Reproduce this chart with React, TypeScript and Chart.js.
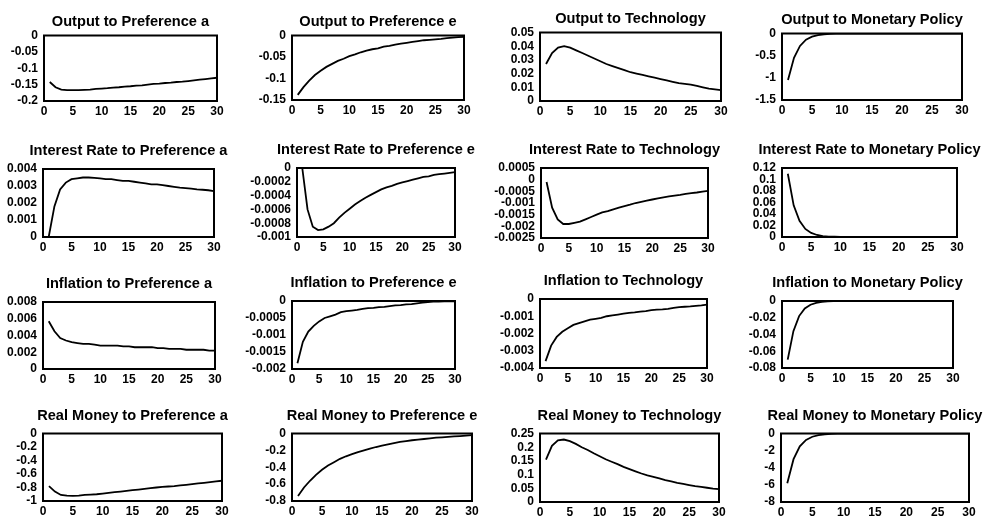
import React, { useEffect, useRef } from 'react';
import { Chart, registerables } from 'chart.js';

Chart.register(...registerables);

const PERIODS = [1, 2, 3, 4, 5, 6, 7, 8, 9, 10, 11, 12, 13, 14, 15, 16, 17, 18, 19, 20, 21, 22, 23, 24, 25, 26, 27, 28, 29, 30];
const X_TICKS = [0, 5, 10, 15, 20, 25, 30];

const TITLES = [
  'Output to Preference a', 'Output to Preference e', 'Output to Technology', 'Output to Monetary Policy',
  'Interest Rate to Preference a', 'Interest Rate to Preference e', 'Interest Rate to Technology', 'Interest Rate to Monetary Policy',
  'Inflation to Preference a', 'Inflation to Preference e', 'Inflation to Technology', 'Inflation to Monetary Policy',
  'Real Money to Preference a', 'Real Money to Preference e', 'Real Money to Technology', 'Real Money to Monetary Policy',
];

const outputPrefA = [-0.142, -0.158, -0.165, -0.167, -0.167, -0.167, -0.166, -0.165, -0.163, -0.162, -0.161, -0.159, -0.158, -0.156, -0.155, -0.153, -0.152, -0.150, -0.148, -0.147, -0.145, -0.144, -0.142, -0.141, -0.139, -0.137, -0.135, -0.133, -0.131, -0.129];
const outputPrefE = [-0.138, -0.120, -0.105, -0.092, -0.082, -0.073, -0.066, -0.059, -0.054, -0.048, -0.044, -0.039, -0.035, -0.032, -0.030, -0.026, -0.024, -0.021, -0.019, -0.017, -0.015, -0.013, -0.011, -0.010, -0.009, -0.008, -0.006, -0.005, -0.004, -0.003];
const outputTech = [0.027, 0.035, 0.039, 0.040, 0.039, 0.037, 0.035, 0.033, 0.031, 0.029, 0.027, 0.0255, 0.024, 0.0225, 0.021, 0.020, 0.019, 0.018, 0.017, 0.016, 0.015, 0.014, 0.013, 0.0125, 0.012, 0.011, 0.010, 0.009, 0.0085, 0.008];
const outputMon = [-1.05, -0.55, -0.28, -0.14, -0.07, -0.035, -0.017, -0.008, -0.004, -0.002, -0.001, -0.0005, 0, 0, 0, 0, 0, 0, 0, 0, 0, 0, 0, 0, 0, 0, 0, 0, 0, 0];

const ratePrefA = [0.0, 0.0018, 0.0028, 0.0032, 0.0034, 0.00345, 0.0035, 0.0035, 0.00348, 0.00345, 0.0034, 0.0034, 0.00335, 0.0033, 0.0033, 0.00325, 0.0032, 0.00315, 0.0031, 0.0031, 0.00305, 0.003, 0.00295, 0.0029, 0.00288, 0.00285, 0.0028, 0.00278, 0.00275, 0.0027];
const ratePrefE = [0.0, -0.0006, -0.00085, -0.0009, -0.00089, -0.00085, -0.0008, -0.00072, -0.00065, -0.00059, -0.00053, -0.00048, -0.00043, -0.00039, -0.00035, -0.00031, -0.00028, -0.00026, -0.00023, -0.00021, -0.00019, -0.00017, -0.00015, -0.00013, -0.00012, -0.0001, -0.00009, -0.00008, -0.00007, -0.00006];
const rateTech = [-0.0001, -0.0012, -0.0017, -0.0019, -0.0019, -0.00185, -0.0018, -0.0017, -0.0016, -0.0015, -0.0014, -0.00135, -0.00127, -0.0012, -0.00113, -0.00107, -0.001, -0.00095, -0.0009, -0.00085, -0.0008, -0.00076, -0.00072, -0.00068, -0.00065, -0.00061, -0.00058, -0.00055, -0.00051, -0.00048];
const rateMon = [0.11, 0.055, 0.028, 0.014, 0.007, 0.0035, 0.0017, 0.0008, 0.0004, 0.0002, 0.0001, 0, 0, 0, 0, 0, 0, 0, 0, 0, 0, 0, 0, 0, 0, 0, 0, 0, 0, 0];

const inflPrefA = [0.0057, 0.0045, 0.0037, 0.0034, 0.0032, 0.0031, 0.003, 0.003, 0.0029, 0.0028, 0.0028, 0.0028, 0.0028, 0.0027, 0.0027, 0.0026, 0.0026, 0.0026, 0.0026, 0.0025, 0.0025, 0.0024, 0.0024, 0.0024, 0.0023, 0.0023, 0.0023, 0.0023, 0.0022, 0.0022];
const inflPrefE = [-0.00183, -0.0012, -0.0009, -0.00073, -0.0006, -0.0005, -0.00045, -0.0004, -0.00033, -0.0003, -0.00028, -0.00026, -0.00023, -0.00021, -0.0002, -0.00018, -0.00017, -0.00015, -0.00013, -0.00012, -0.0001, -0.00009, -0.00007, -0.00005, -0.00003, -0.00002, -0.00002, -0.00001, -0.00001, -0.00001];
const inflTech = [-0.0036, -0.0027, -0.0022, -0.0019, -0.0017, -0.0015, -0.0014, -0.0013, -0.0012, -0.00115, -0.0011, -0.001, -0.00095, -0.0009, -0.00085, -0.0008, -0.00078, -0.00073, -0.0007, -0.00065, -0.00062, -0.0006, -0.00057, -0.00052, -0.00047, -0.00045, -0.00043, -0.0004, -0.00037, -0.00033];
const inflMon = [-0.07, -0.036, -0.018, -0.009, -0.0045, -0.0022, -0.0011, -0.0005, -0.0002, -0.0001, 0, 0, 0, 0, 0, 0, 0, 0, 0, 0, 0, 0, 0, 0, 0, 0, 0, 0, 0, 0];

const moneyPrefA = [-0.78, -0.86, -0.91, -0.92, -0.925, -0.92, -0.91, -0.905, -0.9, -0.89, -0.88, -0.87, -0.86, -0.85, -0.84, -0.83, -0.82, -0.81, -0.8, -0.79, -0.785, -0.78, -0.77, -0.76, -0.75, -0.74, -0.73, -0.72, -0.71, -0.7];
const moneyPrefE = [-0.74, -0.64, -0.56, -0.49, -0.43, -0.38, -0.34, -0.3, -0.27, -0.245, -0.22, -0.2, -0.18, -0.16, -0.145, -0.13, -0.115, -0.1, -0.09, -0.08, -0.072, -0.065, -0.058, -0.05, -0.045, -0.04, -0.035, -0.03, -0.025, -0.02];
const moneyTech = [0.155, 0.205, 0.225, 0.228, 0.222, 0.212, 0.2, 0.19, 0.178, 0.167, 0.156, 0.147, 0.138, 0.128, 0.12, 0.112, 0.104, 0.097, 0.092, 0.086, 0.08, 0.075, 0.07, 0.066, 0.062, 0.058, 0.055, 0.052, 0.049, 0.047];
const moneyMon = [-5.8, -3.0, -1.5, -0.75, -0.38, -0.19, -0.1, -0.05, -0.025, -0.012, -0.006, 0, 0, 0, 0, 0, 0, 0, 0, 0, 0, 0, 0, 0, 0, 0, 0, 0, 0, 0];

const SERIES = [
  outputPrefA, outputPrefE, outputTech, outputMon,
  ratePrefA, ratePrefE, rateTech, rateMon,
  inflPrefA, inflPrefE, inflTech, inflMon,
  moneyPrefA, moneyPrefE, moneyTech, moneyMon,
];

const Y_TICKS = [
  [-0.2, -0.15, -0.1, -0.05, 0],
  [-0.15, -0.1, -0.05, 0],
  [0, 0.01, 0.02, 0.03, 0.04, 0.05],
  [-1.5, -1, -0.5, 0],
  [0, 0.001, 0.002, 0.003, 0.004],
  [-0.001, -0.0008, -0.0006, -0.0004, -0.0002, 0],
  [-0.0025, -0.002, -0.0015, -0.001, -0.0005, 0, 0.0005],
  [0, 0.02, 0.04, 0.06, 0.08, 0.1, 0.12],
  [0, 0.002, 0.004, 0.006, 0.008],
  [-0.002, -0.0015, -0.001, -0.0005, 0],
  [-0.004, -0.003, -0.002, -0.001, 0],
  [-0.08, -0.06, -0.04, -0.02, 0],
  [-1, -0.8, -0.6, -0.4, -0.2, 0],
  [-0.8, -0.6, -0.4, -0.2, 0],
  [0, 0.05, 0.1, 0.15, 0.2, 0.25],
  [-8, -6, -4, -2, 0],
];

// Layout: plot box [left, top, right, bottom] in page pixels
const BOXES = [
  [44, 35, 217, 101], [292, 35, 464, 100], [540, 32, 721, 101], [782, 33, 962, 100],
  [43, 169, 214, 237], [297, 168, 455, 237], [541, 168, 708, 238], [782, 168, 957, 237],
  [43, 302, 215, 369], [292, 301, 455, 369], [540, 299, 707, 368], [782, 301, 953, 368],
  [43, 433, 222, 501], [292, 433, 472, 501], [540, 433, 719, 502], [781, 433, 969, 502],
];
// distance from title text middle to plot box top, per row
const TITLE_GAP = [13.5, 18, 18, 17.5];

const FONT = 'Liberation Sans, Arial, Helvetica, sans-serif';
const SIDE = 60;
const TITLE_LINE = 16;
const XAXIS_H = 22;

const boxPlugin = {
  id: 'boxFrame',
  afterDatasetsDraw(chart: any) {
    const { ctx, chartArea } = chart;
    ctx.save();
    ctx.strokeStyle = '#000';
    ctx.lineWidth = 2;
    ctx.strokeRect(chartArea.left, chartArea.top, chartArea.right - chartArea.left, chartArea.bottom - chartArea.top);
    ctx.restore();
  },
};

function Panel({ idx }: { idx: number }) {
  const ref = useRef<HTMLCanvasElement | null>(null);
  const [l, t, r, b] = BOXES[idx];
  const padBottom = TITLE_GAP[Math.floor(idx / 4)] - TITLE_LINE / 2;
  const titleH = TITLE_LINE + padBottom;
  const w = r - l + SIDE * 2;
  const h = b - t + titleH + XAXIS_H;
  useEffect(() => {
    const canvas = ref.current;
    if (!canvas) return;
    const yt = Y_TICKS[idx];
    const chart = new Chart(canvas, {
      type: 'line',
      data: {
        datasets: [{
          data: PERIODS.map((p, i) => ({ x: p, y: SERIES[idx][i] })),
          borderColor: '#000',
          borderWidth: 1.8,
          pointRadius: 0,
          tension: 0,
          fill: false,
          yAxisID: 'y',
        }],
      },
      options: {
        animation: false,
        responsive: false,
        devicePixelRatio: 1,
        layout: { padding: 0 },
        plugins: {
          legend: { display: false },
          tooltip: { enabled: false },
          title: {
            display: true,
            text: TITLES[idx],
            color: '#000',
            font: { family: FONT, size: 14.6, weight: 'bold', lineHeight: TITLE_LINE + 'px' } as any,
            padding: { top: 0, bottom: padBottom },
          },
        },
        scales: {
          x: {
            type: 'linear',
            min: 0,
            max: 30,
            grid: { display: false, drawTicks: false },
            border: { display: false },
            afterBuildTicks: (s: any) => { s.ticks = X_TICKS.map((v) => ({ value: v })); },
            afterFit: (s: any) => { s.height = XAXIS_H; s.paddingLeft = 0; s.paddingRight = 0; },
            ticks: {
              color: '#000',
              autoSkip: false,
              maxRotation: 0,
              padding: 3.3,
              font: { family: FONT, size: 12, weight: 'bold' },
              callback: (v: any) => String(v),
            },
          },
          y: {
            type: 'linear',
            position: 'left',
            min: yt[0],
            max: yt[yt.length - 1],
            grid: { display: false, drawTicks: false },
            border: { display: false },
            afterBuildTicks: (s: any) => { s.ticks = yt.map((v) => ({ value: v })); },
            afterFit: (s: any) => { s.width = SIDE; s.paddingTop = 0; s.paddingBottom = 0; s.paddingLeft = 0; s.paddingRight = 0; },
            ticks: {
              color: '#000',
              autoSkip: false,
              padding: 6,
              font: { family: FONT, size: 12, weight: 'bold' },
              callback: (v: any) => String(v),
            },
          },
          yRight: {
            type: 'linear',
            position: 'right',
            min: 0,
            max: 1,
            grid: { display: false, drawTicks: false },
            border: { display: false },
            ticks: { display: false },
            afterFit: (s: any) => { s.width = SIDE; s.paddingTop = 0; s.paddingBottom = 0; s.paddingLeft = 0; s.paddingRight = 0; },
          },
        },
      },
      plugins: [boxPlugin],
    } as any);
    return () => chart.destroy();
  }, [idx]);
  return (
    <canvas
      ref={ref}
      width={w}
      height={h}
      style={{ position: 'absolute', left: l - SIDE, top: t - titleH, width: w, height: h }}
    />
  );
}

export default function App() {
  return (
    <div style={{ position: 'absolute', left: 0, top: 0, width: 985, height: 520, background: '#fff', overflow: 'hidden' }}>
      {TITLES.map((_, i) => <Panel key={i} idx={i} />)}
    </div>
  );
}
